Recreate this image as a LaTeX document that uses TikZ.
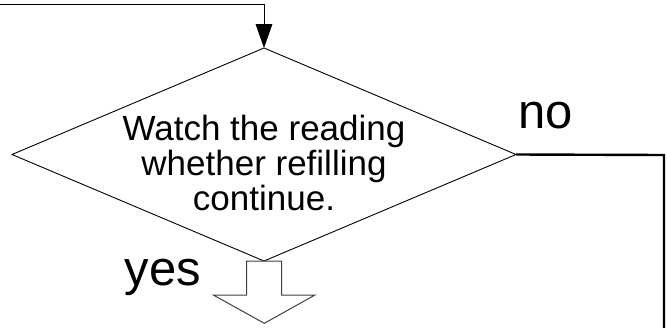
\documentclass[tikz,border=0pt]{standalone}
\usepackage{fontspec}
\setmainfont{Liberation Sans}
\usetikzlibrary{shapes.geometric,arrows.meta}
\tikzset{
  decision/.style={diamond, draw=black, line width=0.9pt, inner sep=0pt, outer sep=0pt,
    minimum width=504pt, minimum height=213pt},
  bodytext/.style={font=\fontsize{35}{35}\selectfont, align=center, inner sep=0pt},
  bigtext/.style={font=\fontsize{49}{49}\selectfont, inner sep=0pt, anchor=base west},
  flow/.style={draw=black, line width=1pt},
  thickflow/.style={draw=black, line width=2.4pt},
  blockarrow/.style={draw=black!75, line width=1pt, fill=white, line join=miter}
}
\begin{document}
\begin{tikzpicture}[x=1pt,y=-1pt]
\useasboundingbox (0,0) rectangle (667,327);
\node[decision] (q) at (264,154.5) {};
\node[bodytext, anchor=base] (qt) at (264,210) {Watch the reading\\whether refilling\\continue.};
\node[bigtext] (no) at (518,128.3) {no};
\node[bigtext] (yes) at (124.5,285) {yes};
\coordinate (start) at (0,4.3);
\coordinate (corner) at (264,4.3);
\coordinate (rcorner) at (664,155);
\coordinate (rend) at (664,328);
\draw[flow, -{Triangle[length=24pt,width=16.7pt]}] (start) -- (corner) -- (q.north);
\draw[thickflow, line join=miter] (q.east) -- (rcorner) -- (rend);
\draw[blockarrow] (246.7,261) -- (281.7,261) -- (281.7,295) -- (315,295) -- (264.3,323.3)
  -- (213.3,295) -- (246.7,295) -- cycle;
\end{tikzpicture}
\end{document}
